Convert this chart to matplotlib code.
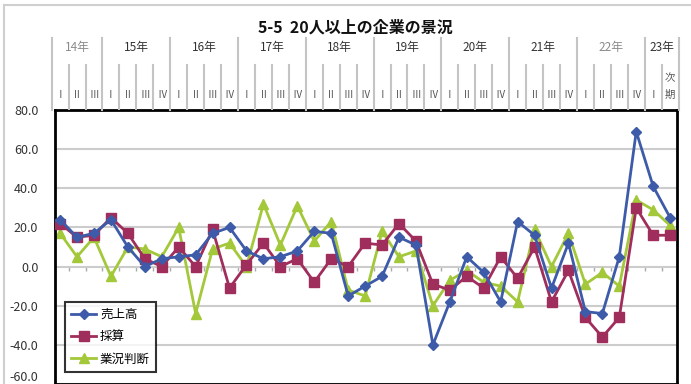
import matplotlib
matplotlib.use('Agg')
import matplotlib.pyplot as plt
from matplotlib.patches import Rectangle

plt.rcParams['font.family'] = ['Noto Sans CJK JP', 'DejaVu Sans']

# 四半期ラベル (14年Ⅱ から 23年Ⅰ と 次期)
years = ['14年', '15年', '16年', '17年', '18年', '19年', '20年', '21年', '22年', '23年']
year_quarters = [['Ⅰ', 'Ⅱ', 'Ⅲ'],
                 ['Ⅰ', 'Ⅱ', 'Ⅲ', 'Ⅳ'], ['Ⅰ', 'Ⅱ', 'Ⅲ', 'Ⅳ'], ['Ⅰ', 'Ⅱ', 'Ⅲ', 'Ⅳ'],
                 ['Ⅰ', 'Ⅱ', 'Ⅲ', 'Ⅳ'], ['Ⅰ', 'Ⅱ', 'Ⅲ', 'Ⅳ'], ['Ⅰ', 'Ⅱ', 'Ⅲ', 'Ⅳ'],
                 ['Ⅰ', 'Ⅱ', 'Ⅲ', 'Ⅳ'], ['Ⅰ', 'Ⅱ', 'Ⅲ', 'Ⅳ'], ['Ⅰ', '次期']]

sales = [24, 15, 17, 24, 10, 0, 4, 5, 6, 17, 20, 8, 4, 5, 8, 18, 17, -15, -10, -5,
         15, 11, -40, -18, 5, -3, -18, 23, 16, -11, 12, -23, -24, 5, 69, 41, 25]
profit = [22, 15, 16, 25, 17, 4, 0, 10, 0, 19, -11, 1, 12, 0, 4, -8, 4, 0, 12, 11,
          22, 13, -9, -12, -5, -11, 5, -6, 10, -18, -2, -26, -36, -26, 30, 16, 16]
business = [17, 5, 15, -5, 10, 9, 5, 20, -24, 9, 12, 0, 32, 11, 31, 13, 23, -12, -15, 18,
            5, 8, -20, -7, -2, -8, -10, -18, 19, 0, 17, -9, -3, -10, 34, 29, 21]

series_names = ['売上高', '採算', '業況判断']
yticks = [-60, -40, -20, 0, 20, 40, 60, 80]

fig = plt.figure(figsize=(6.91, 3.84), dpi=100)
fig.patches.append(Rectangle((0.006, -0.01), 1.0, 0.998, transform=fig.transFigure,
                             fill=False, edgecolor='#cfcfcf', linewidth=1.5))

fig.text(0.515, 0.928, '5-5  20人以上の企業の景況', ha='center', va='center',
         fontsize=11.5, fontweight='bold', color='#111111')

x = list(range(len(sales)))
xmin, xmax = -0.3, 36.4

ax = fig.add_axes([0.0796, 0.0, 0.900, 0.7135])
ax.set_xlim(xmin, xmax)
ax.set_ylim(-60, 80)
ax.set_yticks(yticks)
ax.set_yticklabels([f'{v:.1f}' for v in yticks])
ax.tick_params(axis='y', length=0, pad=12, labelsize=9, labelcolor='#333333')
# 一番下のラベルは図の端で切れないよう少し上げる
ax.get_yticklabels()[0].set_verticalalignment('bottom')
ax.set_xticks([])
ax.grid(axis='y', color='#cccccc', linewidth=1.5)
ax.set_axisbelow(True)
for s in ax.spines.values():
    s.set_color('black')
    s.set_linewidth(2)

# 0 ラインの目盛り
sec = ax.secondary_xaxis(60 / 140)
sec.set_xticks([i + 0.5 for i in x[:-1]])
sec.set_xticklabels([])
sec.tick_params(length=3, color='#aaaaaa', width=1)
sec.spines['bottom'].set_visible(False)

ax.plot(x, sales, color='#3d5ba8', lw=2, marker='D', ms=5, label=series_names[0], zorder=4)
ax.plot(x, profit, color='#a02e5c', lw=2, marker='s', ms=7, label=series_names[1], zorder=3)
ax.plot(x, business, color='#a3c83a', lw=2, marker='^', ms=7, label=series_names[2], zorder=2)

leg = ax.legend(loc='lower left', bbox_to_anchor=(0.016, 0.044), borderaxespad=0,
                fancybox=False, edgecolor='black', fontsize=9, handlelength=2.0,
                handletextpad=0.3, labelspacing=0.75, borderpad=0.5)
leg.get_frame().set_linewidth(1.5)

# 見出しの表
hx = fig.add_axes([0.0796, 0.7135, 0.900, 0.1875])
hx.set_xlim(xmin, xmax)
hx.set_ylim(0, 1)
hx.axis('off')
start = 0
for yr, qs in zip(years, year_quarters):
    end = start + len(qs)
    hx.plot([start - 0.5, start - 0.5], [0, 1], color='#c4c4c4', lw=1.5, clip_on=False)
    col = '#8a8a8a' if yr in ('14年', '22年') else '#333333'
    hx.text((start + end - 1) / 2, 0.87, yr, ha='center', va='center', fontsize=8.5, color=col)
    for k, q in enumerate(qs):
        i = start + k
        if k > 0:
            hx.plot([i - 0.5, i - 0.5], [0, 0.62], color='#c4c4c4', lw=1.5)
        if q == '次期':
            hx.text(i, 0.44, '次', ha='center', va='center', fontsize=7.5, color='#555555')
            hx.text(i, 0.21, '期', ha='center', va='center', fontsize=7.5, color='#555555')
        else:
            hx.text(i, 0.21, q, ha='center', va='center', fontsize=7, color='#555555')
    start = end
hx.plot([start - 0.5, start - 0.5], [0, 1], color='#c4c4c4', lw=1.5, clip_on=False)

fig.savefig('out.png', dpi=100)
